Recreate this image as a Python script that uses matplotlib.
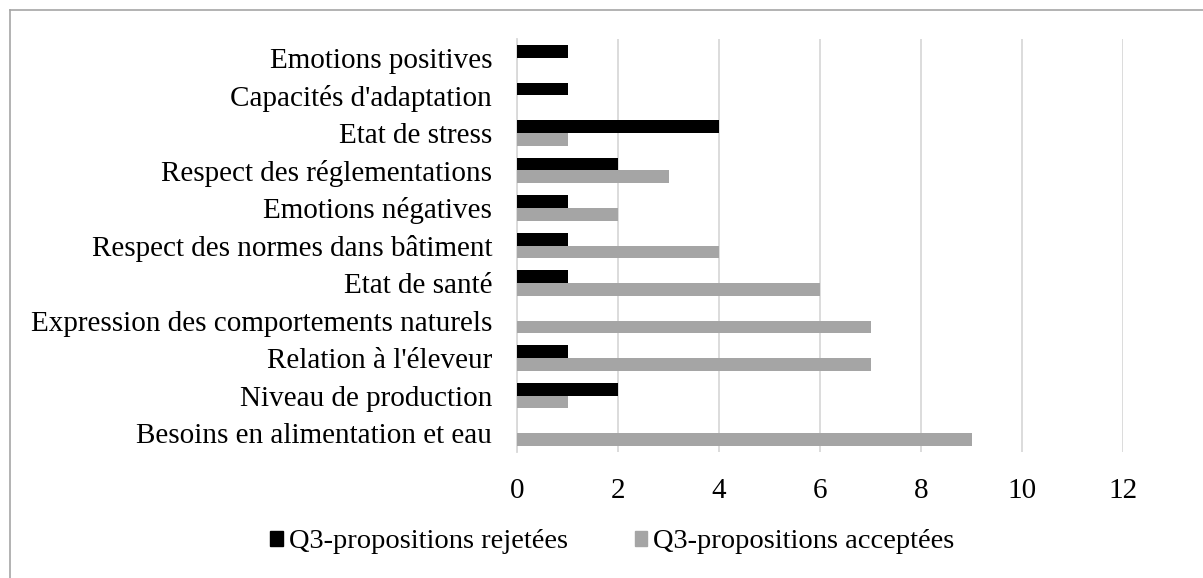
import matplotlib
matplotlib.use("Agg")
import matplotlib.pyplot as plt
import numpy as np
from matplotlib.patches import Patch
from matplotlib.lines import Line2D

categories = [
    "Besoins en alimentation et eau",
    "Niveau de production",
    "Relation à l'éleveur",
    "Expression des comportements naturels",
    "Etat de santé",
    "Respect des normes dans bâtiment",
    "Emotions négatives",
    "Respect des réglementations",
    "Etat de stress",
    "Capacités d'adaptation",
    "Emotions positives",
]
rejetees = [0, 2, 1, 0, 1, 1, 1, 2, 4, 1, 1]
acceptees = [9, 1, 7, 7, 6, 4, 2, 3, 1, 0, 0]
series_names = ["Q3-propositions rejetées", "Q3-propositions acceptées"]
xticks = [0, 2, 4, 6, 8, 10, 12]

plt.rcParams['font.family'] = ['Liberation Serif', 'DejaVu Serif']

fig = plt.figure(figsize=(12.03, 5.78), dpi=100)
ax = fig.add_axes([517/1203, 1-452/578, (1123-517)/1203, (452-39)/578])

y = np.arange(len(categories))
h = 0.34
ax.barh(y + h/2, rejetees, height=h, color="#000000", label=series_names[0], zorder=3)
ax.barh(y - h/2, acceptees, height=h, color="#A5A5A5", label=series_names[1], zorder=3)

ax.set_xlim(0, 12)
ax.set_ylim(-0.5, len(categories) - 0.5)
ax.set_xticks(xticks)
ax.set_yticks(y)
ax.set_yticklabels(categories, fontsize=21)
ax.tick_params(axis='x', labelsize=21, length=0, pad=19)
ax.tick_params(axis='y', length=0, pad=18)
ax.grid(axis='x', color="#D9D9D9", linewidth=1.3, zorder=0)
for s in ["top", "right", "bottom"]:
    ax.spines[s].set_visible(False)
ax.spines["left"].set_color("#D9D9D9")
ax.spines["left"].set_linewidth(1.3)

handles = [Patch(color="#000000"), Patch(color="#A5A5A5")]
fig.legend(handles, series_names, loc="center", bbox_to_anchor=(0.509, 1-542/578),
           ncol=2, frameon=False, fontsize=20.5, handlelength=0.45, handleheight=0.45,
           handletextpad=0.2, columnspacing=2.35)

# outer border (top and left)
fig.add_artist(Line2D([10/1203, 1], [1-10/578, 1-10/578], color="#A6A6A6", lw=1.2, transform=fig.transFigure))
fig.add_artist(Line2D([10/1203, 10/1203], [0, 1-10/578], color="#A6A6A6", lw=1.2, transform=fig.transFigure))

fig.savefig("out.png", dpi=100, facecolor="white")
